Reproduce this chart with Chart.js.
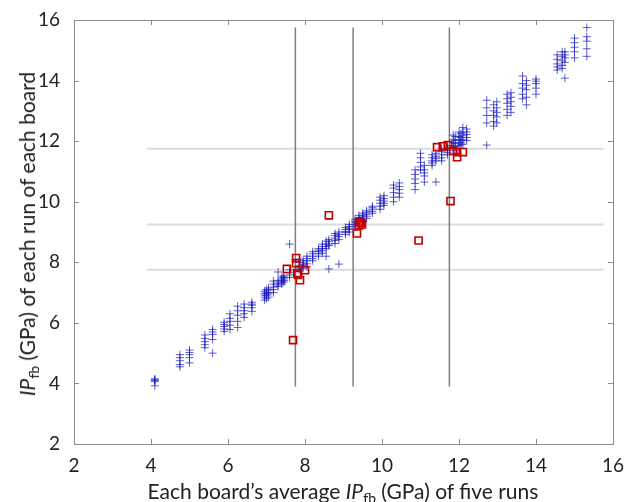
<!DOCTYPE html>
<html>
<head>
<meta charset="utf-8">
<script src="https://cdn.jsdelivr.net/npm/chart.js@4.4.1/dist/chart.umd.min.js"></script>
<style>
  html, body { margin: 0; padding: 0; background: #fff; }
  #wrap { position: relative; width: 630px; height: 502px; overflow: hidden; }
  canvas { position: absolute; left: 0; top: 0; }
  .title { position: absolute; font-family: Lato, "Open Sans", sans-serif; font-size: 21px; color: #222; white-space: nowrap; line-height: 24px; }
  .title i { font-style: italic; }
  .title sub { font-size: 14px; vertical-align: -4px; line-height: 0; }
  #xTitle { left: 343px; top: 479px; transform: translateX(-50%); }
  #yTitle { left: 27px; top: 234px; transform: translate(-50%, -50%) rotate(-90deg); }
</style>
</head>
<body>
<div id="wrap">
  <canvas id="chart" width="630" height="502"></canvas>
  <div class="title" id="xTitle">Each board’s average <i>IP</i><sub>fb</sub> (GPa) of five runs</div>
  <div class="title" id="yTitle"><i>IP</i><sub>fb</sub> (GPa) of each run of each board</div>
</div>
<script>
// board averages (x) and the five runs of each board (y)
const boardAvg = [
  4.10, 4.75, 5.00, 5.40, 5.60, 5.90, 6.05, 6.25, 6.42, 6.62,
  6.95, 7.05, 7.18, 7.30, 7.45, 7.60, 7.85, 7.95, 8.05, 8.20,
  8.35, 8.55, 8.62, 8.78, 8.88, 9.05, 9.15, 9.40, 9.50, 9.60,
  9.75, 9.95, 10.05, 10.30, 10.45, 10.86, 11.00, 11.10, 11.40, 11.30,
  11.55, 11.70, 11.85, 12.00, 12.10, 12.20, 12.72, 12.90, 12.98, 13.25,
  13.35, 13.65, 13.75, 14.00, 14.55, 14.68, 14.75, 15.00, 15.32, 7.00,
  7.40, 9.30, 11.90, 12.05, 8.45
]
const boardRuns = [
  [4.15, 4.12, 4.10, 4.06, 3.92],
  [4.95, 4.85, 4.75, 4.62, 4.55],
  [5.10, 5.02, 4.95, 4.85, 4.68],
  [5.60, 5.48, 5.38, 5.28, 5.18],
  [5.78, 5.70, 5.62, 5.45, 5.00],
  [6.02, 5.95, 5.88, 5.80, 5.72],
  [6.30, 6.15, 6.05, 5.92, 5.78],
  [6.55, 6.40, 6.25, 6.05, 5.85],
  [6.62, 6.50, 6.40, 6.30, 6.18],
  [6.68, 6.62, 6.58, 6.50, 6.38],
  [7.05, 6.98, 6.92, 6.85, 6.75],
  [7.15, 7.08, 7.00, 6.95, 6.85],
  [7.38, 7.28, 7.18, 7.10, 7.00],
  [7.68, 7.40, 7.32, 7.25, 7.20],
  [7.55, 7.50, 7.45, 7.40, 7.35],
  [8.60, 7.75, 7.65, 7.58, 7.50],
  [8.10, 8.00, 7.90, 7.82, 7.74],
  [8.05, 7.98, 7.92, 7.88, 7.80],
  [8.20, 8.12, 8.05, 7.95, 7.85],
  [8.35, 8.28, 8.20, 8.12, 8.05],
  [8.45, 8.40, 8.35, 8.28, 8.20],
  [8.70, 8.60, 8.52, 8.45, 8.20],
  [8.75, 8.68, 8.60, 8.55, 7.78],
  [8.95, 8.88, 8.80, 8.72, 8.62],
  [9.00, 8.92, 8.85, 8.75, 7.94],
  [9.15, 9.08, 9.02, 8.98, 8.92],
  [9.25, 9.18, 9.12, 9.08, 9.00],
  [9.55, 9.45, 9.38, 9.32, 9.28],
  [9.62, 9.55, 9.50, 9.42, 9.35],
  [9.70, 9.65, 9.58, 9.52, 9.45],
  [9.85, 9.80, 9.75, 9.68, 9.62],
  [10.15, 10.05, 9.95, 9.85, 9.75],
  [10.20, 10.10, 10.02, 9.95, 9.88],
  [10.55, 10.45, 10.30, 10.15, 10.00],
  [10.62, 10.50, 10.40, 10.28, 10.15],
  [11.05, 10.90, 10.75, 10.60, 10.40],
  [11.60, 11.45, 11.30, 11.15, 11.05],
  [11.20, 11.05, 10.95, 10.85, 10.65],
  [11.60, 11.50, 11.42, 11.35, 10.65],
  [11.55, 11.45, 11.35, 11.28, 11.20],
  [11.75, 11.65, 11.55, 11.45, 11.35],
  [11.85, 11.78, 11.70, 11.62, 11.55],
  [12.20, 12.05, 11.95, 11.85, 11.75],
  [12.30, 12.15, 12.05, 11.95, 11.85],
  [12.45, 12.30, 12.18, 12.05, 11.90],
  [12.40, 12.30, 12.22, 12.12, 12.02],
  [13.35, 13.10, 12.85, 12.60, 11.87],
  [13.20, 13.00, 12.85, 12.65, 12.50],
  [13.30, 13.10, 12.95, 12.80, 12.60],
  [13.55, 13.40, 13.25, 13.05, 12.85],
  [13.60, 13.45, 13.30, 13.15, 12.95],
  [14.15, 13.90, 13.75, 13.55, 13.40],
  [14.00, 13.85, 13.70, 13.45, 13.20],
  [14.05, 13.98, 13.90, 13.75, 13.55],
  [14.85, 14.70, 14.55, 14.45, 14.35],
  [14.95, 14.80, 14.65, 14.50, 14.40],
  [14.95, 14.85, 14.75, 14.60, 14.08],
  [15.40, 15.25, 15.10, 14.95, 14.75],
  [15.75, 15.45, 15.30, 15.05, 14.80],
  [7.10, 7.02, 6.96, 6.90, 6.80],
  [7.52, 7.45, 7.38, 7.32, 7.28],
  [9.42, 9.35, 9.30, 9.24, 9.18],
  [12.15, 12.02, 11.92, 11.82, 11.70],
  [12.25, 12.12, 12.02, 11.95, 11.88],
  [8.60, 8.52, 8.45, 8.38, 8.30]
]

// flagged runs (red squares)
const flaggedX = [8.62, 10.95, 11.78, 9.35, 9.40, 9.45, 9.48, 9.42, 11.43, 11.58, 11.71, 11.95, 11.95, 12.10, 11.85,
  7.53, 7.77, 7.77, 7.80, 7.87, 8.00, 7.69, 7.82]
const flaggedY = [9.55, 8.72, 10.02, 8.95, 9.22, 9.30, 9.25, 9.35, 11.80, 11.83, 11.87, 11.64, 11.47, 11.64, 11.68,
  7.78, 8.14, 7.97, 7.64, 7.41, 7.74, 5.43, 7.58]

// reference lines
const refValues = [7.75, 9.25, 11.75]
const refSpan = [3.9, 15.75]

const axisTicks = [2, 4, 6, 8, 10, 12, 14, 16]

const crossPoints = boardAvg.flatMap((x, i) => boardRuns[i].map(y => ({x: x, y: y})))
const redPoints = flaggedX.map((x, i) => ({x: x, y: flaggedY[i]}))

const lineSets = []
refValues.forEach(v => {
  lineSets.push({
    data: refSpan.map(s => ({x: v, y: s})),
    showLine: true, borderColor: '#7f7f7f', borderWidth: 1.5, pointRadius: 0, order: 3
  })
  lineSets.push({
    data: refSpan.map(s => ({x: s, y: v})),
    showLine: true, borderColor: '#dcdcdc', borderWidth: 2, pointRadius: 0, order: 4
  })
})

const frame = {
  id: 'frame',
  afterDraw(chart) {
    const {ctx, chartArea: a, scales} = chart
    ctx.save()
    ctx.strokeStyle = '#8c8c8c'
    ctx.lineWidth = 1
    ctx.strokeRect(a.left + 0.5, a.top + 0.5, a.right - a.left, a.bottom - a.top)
    ctx.beginPath()
    axisTicks.forEach(t => {
      const px = Math.round(scales.x.getPixelForValue(t)) + 0.5
      ctx.moveTo(px, a.bottom); ctx.lineTo(px, a.bottom - 5)
      ctx.moveTo(px, a.top); ctx.lineTo(px, a.top + 5)
      const py = Math.round(scales.y.getPixelForValue(t)) + 0.5
      ctx.moveTo(a.left, py); ctx.lineTo(a.left + 5, py)
      ctx.moveTo(a.right, py); ctx.lineTo(a.right - 5, py)
    })
    ctx.stroke()
    ctx.restore()
  }
}

const tickFont = {family: 'Lato, "Open Sans", sans-serif', size: 19}

new Chart(document.getElementById('chart'), {
  type: 'scatter',
  data: {
    datasets: [
      {
        data: redPoints, pointStyle: 'rect', pointRadius: 5,
        borderColor: '#c00000', borderWidth: 1.6, backgroundColor: 'rgba(0,0,0,0)', order: 0
      },
      {
        data: crossPoints, pointStyle: 'cross', pointRadius: 4,
        borderColor: 'rgba(25,25,190,0.7)', borderWidth: 1, order: 1
      },
      ...lineSets
    ]
  },
  options: {
    responsive: false,
    animation: false,
    layout: {padding: {left: 0, top: 20, right: 17, bottom: 0}},
    plugins: {legend: {display: false}, tooltip: {enabled: false}},
    scales: {
      x: {
        type: 'linear', min: 2, max: 16,
        afterBuildTicks: s => { s.ticks = axisTicks.map(v => ({value: v})) },
        afterFit: s => { s.height = 58 },
        grid: {display: false}, border: {display: false},
        ticks: {font: tickFont, color: '#222', padding: 2, maxRotation: 0}
      },
      y: {
        type: 'linear', min: 2, max: 16,
        afterBuildTicks: s => { s.ticks = axisTicks.map(v => ({value: v})) },
        afterFit: s => { s.width = 74 },
        grid: {display: false}, border: {display: false},
        ticks: {font: tickFont, color: '#222', padding: 6}
      }
    }
  },
  plugins: [frame]
})
</script>
</body>
</html>
